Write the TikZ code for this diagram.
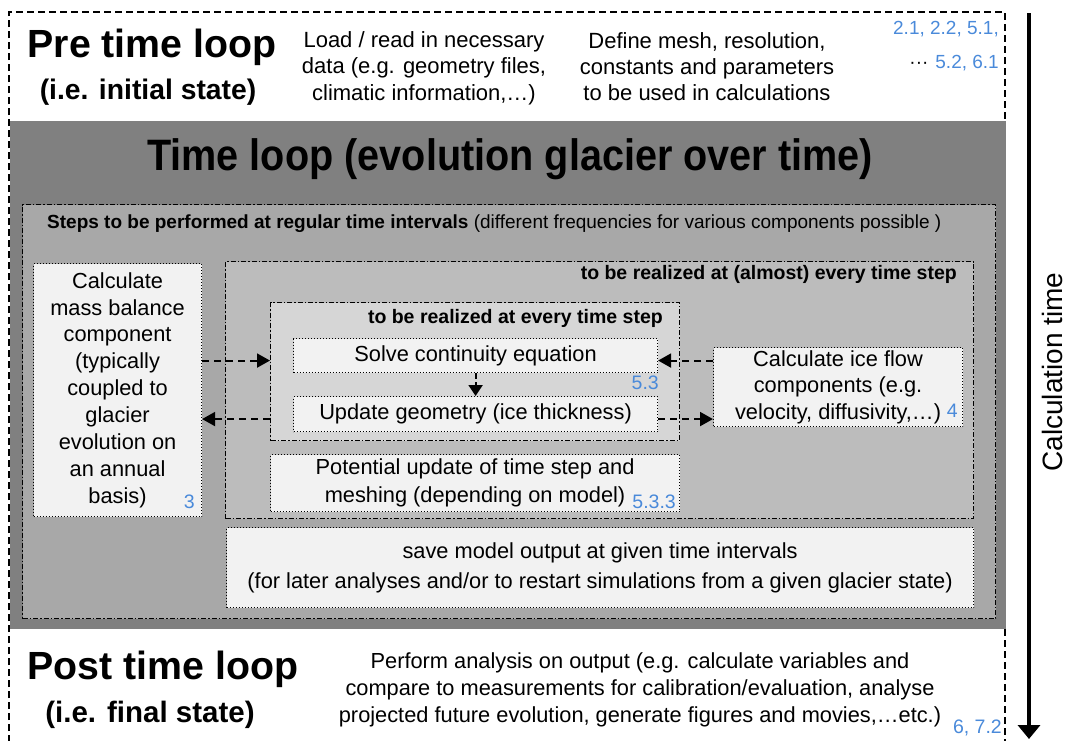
\documentclass[tikz,border=0pt]{standalone}
\usepackage{fontspec}
\usepackage{graphicx}
\setmainfont{Liberation Sans}
\usetikzlibrary{arrows.meta}
\definecolor{bandgray}{RGB}{128,128,128}
\definecolor{stepsgray}{RGB}{168,168,168}
\definecolor{almostgray}{RGB}{188,188,188}
\definecolor{everygray}{RGB}{214,214,214}
\definecolor{boxwhite}{RGB}{242,242,242}
\definecolor{refblue}{RGB}{74,138,218}
\newcommand\myfs[2]{\fontsize{#1}{#2}\selectfont}
\begin{document}
\begin{tikzpicture}[x=1pt,y=-1pt,
  dashdot/.style={draw=black, line width=1.1pt, dash pattern=on 5pt off 2pt on 1.5pt off 2pt},
  dotbox/.style={draw=black, line width=1.1pt, dash pattern=on 1pt off 2pt, fill=boxwhite},
  conn/.style={line width=2pt, dash pattern=on 7pt off 5pt, -{Triangle[length=13pt,width=14pt]}},
  txt/.style={font=\myfs{21.8}{27}, align=center, inner sep=0pt},
  lbl/.style={font=\bfseries\myfs{19.5}{24}, inner sep=0pt, anchor=base east},
  num/.style={font=\myfs{19.5}{22}, text=refblue, inner sep=0pt, anchor=base east},
  area/.style={inner sep=0pt, anchor=north west},
]
\useasboundingbox (0,0) rectangle (1067,740);

% outer dashed frame
\coordinate (fBL) at (9,742);
\coordinate (fTL) at (9,12);
\coordinate (fTR) at (1005,12);
\coordinate (fBR) at (1005,742);
\draw[line width=1.3pt, dash pattern=on 7pt off 4pt] (fBL) -- (fTL) -- (fTR) -- (fBR);

% time loop band
\node[area, fill=bandgray, minimum width=996, minimum height=508] (band) at (10,121) {};
\node[font=\bfseries\myfs{44}{46}, anchor=base, inner sep=0pt] (title) at (510,170)
  {\scalebox{0.9}[1]{Time loop (evolution glacier over time)}};

% steps box
\node[area, dashdot, fill=stepsgray, minimum width=973, minimum height=414] (steps) at (22,204) {};
\node[font=\myfs{19}{22}, anchor=base west, inner sep=0pt] (stepstxt) at (47,228)
  {\textbf{Steps to be performed at regular time intervals} (different frequencies for various components possible )};

% almost every time step box
\node[area, dashdot, fill=almostgray, minimum width=748, minimum height=257] (almost) at (225,261) {};
\node[lbl] (almostlbl) at (957,279) {to be realized at (almost) every time step};

% every time step box
\node[area, dashdot, fill=everygray, minimum width=409, minimum height=138] (every) at (270,302) {};
\node[lbl] (everylbl) at (663,323) {to be realized at every time step};

% white boxes
\node[area, dotbox, txt, font=\myfs{21.8}{26.9}, minimum width=168, minimum height=253] (mb) at (33,263)
  {Calculate\\mass balance\\component\\(typically\\coupled to\\glacier\\evolution on\\an annual\\basis)};
\node[area, dotbox, txt, minimum width=364, minimum height=34] (solve) at (293,338) {Solve continuity equation};
\node[area, dotbox, txt, minimum width=364, minimum height=35] (update) at (293,396) {Update geometry (ice thickness)};
\node[area, dotbox, txt, font=\myfs{21.8}{28}, minimum width=409, minimum height=57] (pot) at (270,454)
  {Potential update of time step and\\meshing (depending on model)};
\node[area, dotbox, txt, font=\myfs{21.8}{26.5}, minimum width=249, minimum height=79] (ice) at (713,347)
  {Calculate ice flow\\components (e.g.\\velocity, diffusivity,…)};
\node[area, dotbox, txt, font=\myfs{21.8}{30}, minimum width=747, minimum height=80] (save) at (226,527)
  {save model output at given time intervals\\(for later analyses and/or to restart simulations from a given glacier state)};

% blue references
\node[num] (n53) at (659,389) {5.3};
\node[num] (n533) at (676,508) {5.3.3};
\node[num] (n4) at (958,417) {4};
\node[num] (n3) at (195,508) {3};
\node[num] (n672) at (1002,733) {6, 7.2};
\node[num, font=\myfs{19}{22}] (n21) at (999,34) {2.1, 2.2, 5.1,};
\node[num, font=\myfs{19}{22}] (n52) at (999,68) {{\color{black}···}\hspace{7pt}5.2, 6.1};

% connectors
\coordinate (yA) at ([yshift=-5pt]solve.east);
\coordinate (yB) at ([yshift=-5pt]update.east);
\draw[conn] (mb.east |- yA) -- (every.west |- yA);
\draw[conn] (every.west |- yB) -- (mb.east |- yB);
\draw[conn] (ice.west |- yA) -- (yA);
\draw[conn] (yB) -- (ice.west |- yB);
\draw[conn, dash pattern=on 6pt off 3pt, -{Triangle[length=11pt,width=14pt]}] (solve.south) -- (update.north);

% pre time loop
\node[font=\bfseries\myfs{39.3}{40}, anchor=base, inner sep=0pt] (pre) at (152,57) {Pre time loop};
\node[font=\bfseries\myfs{28.3}{30}, anchor=base, inner sep=0pt] (preinit) at (148,99) {(i.e. initial state)};
\node[txt, font=\myfs{22}{26.5}] (load) at (424,68)
  {Load / read in necessary\\data (e.g. geometry files,\\climatic information,…)};
\node[txt, font=\myfs{22}{26}] (define) at (707,67)
  {Define mesh, resolution,\\constants and parameters\\to be used in calculations};

% post time loop
\node[font=\bfseries\myfs{39.3}{40}, anchor=base, inner sep=0pt] (post) at (163,679) {Post time loop};
\node[font=\bfseries\myfs{29.5}{30}, anchor=base, inner sep=0pt] (postfin) at (150,722) {(i.e. final state)};
\node[txt, font=\myfs{21.8}{27}] (posttxt) at (640,690)
  {Perform analysis on output (e.g. calculate variables and\\compare to measurements for calibration/evaluation, analyse\\projected future evolution, generate figures and movies,…etc.)};

% calculation time arrow
\coordinate (tTop) at (1029,13);
\coordinate (tBot) at (1029,739);
\draw[line width=3.5pt, -{Triangle[length=14pt,width=22pt]}] (tTop) -- (tBot);
\node[rotate=90, font=\myfs{28}{30}, inner sep=0pt] (ctime) at (1052,372) {Calculation time};
\end{tikzpicture}
\end{document}
